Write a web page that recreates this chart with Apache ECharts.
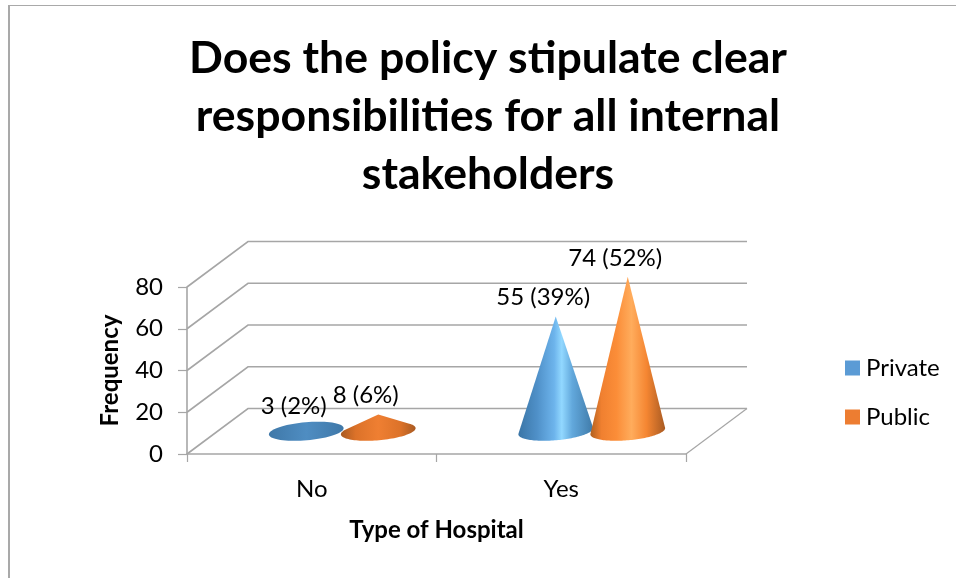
<!DOCTYPE html>
<html><head><meta charset="utf-8">
<style>html,body{margin:0;padding:0;background:#fff}#c{width:956px;height:578px}</style>
<script src="https://cdn.jsdelivr.net/npm/echarts@6/dist/echarts.min.js"></script>
</head><body><div id="c"></div>
<script>
const titleText = 'Does the policy stipulate clear\nresponsibilities for all internal\nstakeholders';
const categories = ['No', 'Yes'];
const yTicks = [0, 20, 40, 60, 80];
const privateValues = [3, 55];
const publicValues = [8, 74];
const privatePercents = [2, 39];
const publicPercents = [6, 52];

const FONT = 'Lato';
const GREY = '#a6a6a6';
const DEPTH_X = 61, DEPTH_Y = -45.5;
const RX = 37.5, RY = 9, TILT = -5 * Math.PI / 180;

const palettes = {
  Private: { flat: [[0,'#3f78a8'],[0.5,'#4f8dc2'],[1,'#3f78a8']],
             tall: [[0,'#3a75a6'],[0.25,'#4f90c8'],[0.48,'#6db4ec'],[0.58,'#92d8ff'],[0.72,'#62a8dc'],[1,'#3f7aa8']] },
  Public:  { flat: [[0,'#a85a22'],[0.2,'#dc7229'],[0.5,'#ef7f32'],[0.8,'#dc7229'],[1,'#a85a22']],
             tall: [[0,'#b0601f'],[0.15,'#f08030'],[0.35,'#fb8d38'],[0.55,'#ffac5c'],[0.75,'#f58632'],[1,'#a85a22']] }
};

function coneItem(offset, name) {
  return function (params, api) {
    const v = api.value(1);
    const front = api.coord([api.value(0), 0]);
    const top = api.coord([api.value(0), v]);
    const cx = front[0] + DEPTH_X / 2 + offset;
    const cy = front[1] + DEPTH_Y / 2;
    const h = front[1] - top[1];
    const ay = cy - h;
    const rot = (x, y) => [cx + x * Math.cos(TILT) - y * Math.sin(TILT),
                           cy + x * Math.sin(TILT) + y * Math.cos(TILT)];
    const pts = [];
    const s = h > RY ? RY / h : 1;
    const start = -Math.asin(s), end = Math.PI + Math.asin(s);
    for (let i = 0; i <= 72; i++) {
      const t = start + (end - start) * i / 72;
      pts.push(rot(RX * Math.cos(t), RY * Math.sin(t)));
    }
    if (h > RY) pts.push([cx, ay]);
    const stops = palettes[name][h > 40 ? 'tall' : 'flat'];
    const pct = api.value(2);
    return {
      type: 'group',
      children: [
        { type: 'polygon', shape: { points: pts },
          style: { fill: { type: 'linear', x: cx - RX, y: 0, x2: cx + RX, y2: 0, global: true,
                           colorStops: stops.map(s => ({ offset: s[0], color: s[1] })) } } },
        { type: 'text', z2: 50, x: cx - 12.5, y: ay - 19,
          style: { text: v + ' (' + pct + '%)', font: '24px ' + FONT, fill: '#000',
                   align: 'center', verticalAlign: 'middle' } }
      ]
    };
  };
}

function wallItem(params, api) {
  const v = api.value(1);
  const cs = params.coordSys;
  const y = api.coord([0, v])[1];
  const children = [{
    type: 'polyline',
    shape: { points: [[cs.x, y], [cs.x + DEPTH_X, y + DEPTH_Y], [cs.x + cs.width + DEPTH_X, y + DEPTH_Y]] },
    style: { stroke: GREY, lineWidth: 1.6, fill: null }
  }];
  if (v === 0) children.push({
    type: 'line',
    shape: { x1: cs.x + cs.width, y1: y, x2: cs.x + cs.width + DEPTH_X, y2: y + DEPTH_Y },
    style: { stroke: GREY, lineWidth: 1.2 }
  });
  return { type: 'group', children };
}

const chart = echarts.init(document.getElementById('c'), null, { renderer: 'canvas' });
chart.setOption({
  animation: false,
  backgroundColor: '#fff',
  title: { text: titleText, left: 488, top: 30, padding: 0, textAlign: 'center',
    textStyle: { fontFamily: FONT, fontWeight: 'bold', fontSize: 44.6, lineHeight: 58, color: '#000' } },
  legend: { data: ['Private', 'Public'], orient: 'vertical', left: 845, top: 356, padding: 0, icon: 'rect',
    itemWidth: 15, itemHeight: 15, itemGap: 25,
    textStyle: { fontFamily: FONT, fontSize: 24, color: '#000', padding: [0, 0, 0, 1] } },
  grid: { left: 187, top: 287, width: 499, height: 167, containLabel: false },
  xAxis: { type: 'category', data: categories, name: 'Type of Hospital', nameLocation: 'middle', nameGap: 64,
    nameTextStyle: { fontFamily: FONT, fontWeight: 'bold', fontSize: 24, color: '#000' },
    axisLine: { lineStyle: { color: GREY, width: 1.6 } },
    axisTick: { show: true, length: 8, lineStyle: { color: GREY, width: 1.2 } },
    axisLabel: { fontFamily: FONT, fontSize: 24, color: '#000', margin: 23 } },
  yAxis: { type: 'value', min: 0, max: 80, interval: 20, name: 'Frequency', nameLocation: 'middle', nameGap: 65,
    nameTextStyle: { fontFamily: FONT, fontWeight: 'bold', fontSize: 24, color: '#000' },
    splitLine: { show: false },
    axisLine: { show: true, lineStyle: { color: GREY, width: 1.6 } },
    axisTick: { show: true, length: 9, lineStyle: { color: GREY, width: 1.2 } },
    axisLabel: { fontFamily: FONT, fontSize: 24, color: '#000', margin: 24 } },
  graphic: [
    { type: 'line', shape: { x1: 9, y1: 6, x2: 9, y2: 578 }, style: { stroke: '#a9a9a9', lineWidth: 2 } },
    { type: 'line', shape: { x1: 8, y1: 5.5, x2: 956, y2: 5.5 }, style: { stroke: '#a9a9a9', lineWidth: 1 } }
  ],
  series: [
    { name: 'Walls', type: 'custom', renderItem: wallItem, z: 1,
      data: yTicks.map(v => [0, v]), encode: { x: 0, y: 1 }, silent: true },
    { name: 'Private', type: 'custom', z: 3, renderItem: coneItem(-36, 'Private'),
      itemStyle: { color: '#5b9bd5' },
      data: categories.map((c, i) => [i, privateValues[i], privatePercents[i]]), encode: { x: 0, y: 1 } },
    { name: 'Public', type: 'custom', z: 4, renderItem: coneItem(36, 'Public'),
      itemStyle: { color: '#ed7d31' },
      data: categories.map((c, i) => [i, publicValues[i], publicPercents[i]]), encode: { x: 0, y: 1 } }
  ]
});
</script></body></html>
